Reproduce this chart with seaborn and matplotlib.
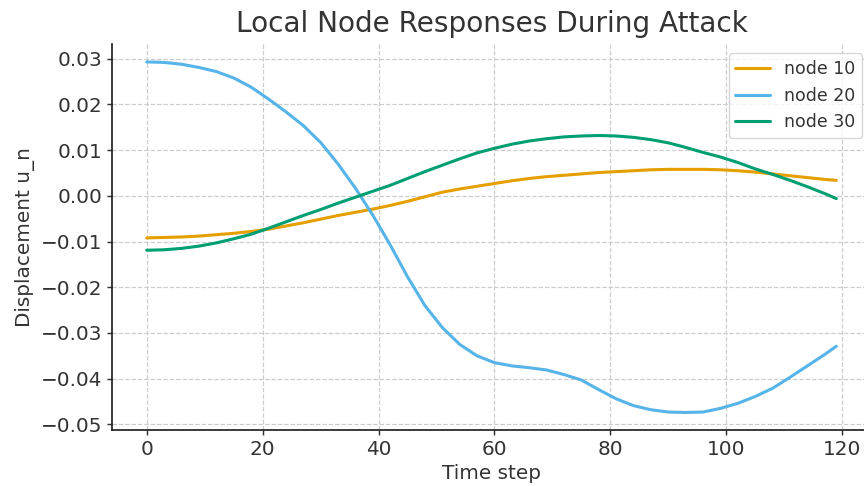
import numpy as np
import pandas as pd
import matplotlib
matplotlib.use("Agg")
import matplotlib.pyplot as plt
import seaborn as sns

# values, every 3 time steps (+ last step 119)
time_steps = [0, 3, 6, 9, 12, 15, 18, 21, 24, 27, 30, 33, 36, 39, 42, 45,
              48, 51, 54, 57, 60, 63, 66, 69, 72, 75, 78, 81, 84, 87, 90,
              93, 96, 99, 102, 105, 108, 111, 114, 117, 119]
node_10 = [-0.0092, -0.0091, -0.0090, -0.0088, -0.0085, -0.0082, -0.0078,
           -0.0073, -0.0066, -0.0059, -0.0051, -0.0043, -0.0036, -0.0029,
           -0.0021, -0.0012, -0.0002, 0.0008, 0.0015, 0.0021, 0.0027,
           0.0033, 0.0038, 0.0042, 0.0045, 0.0048, 0.0051, 0.0053, 0.0055,
           0.0057, 0.0058, 0.0058, 0.0058, 0.0057, 0.0055, 0.0052, 0.0048,
           0.0044, 0.0040, 0.0036, 0.0034]
node_20 = [0.0293, 0.0292, 0.0288, 0.0281, 0.0272, 0.0258, 0.0238, 0.0212,
           0.0184, 0.0154, 0.0117, 0.0070, 0.0017, -0.0042, -0.0107,
           -0.0177, -0.0240, -0.0288, -0.0325, -0.0350, -0.0365, -0.0372,
           -0.0376, -0.0381, -0.0391, -0.0403, -0.0424, -0.0444, -0.0459,
           -0.0468, -0.0473, -0.0474, -0.0473, -0.0465, -0.0454, -0.0439,
           -0.0421, -0.0397, -0.0372, -0.0347, -0.0329]
node_30 = [-0.0119, -0.0118, -0.0115, -0.0110, -0.0103, -0.0094, -0.0084,
           -0.0071, -0.0057, -0.0043, -0.0030, -0.0016, -0.0003, 0.0010,
           0.0023, 0.0038, 0.0053, 0.0067, 0.0081, 0.0094, 0.0104, 0.0113,
           0.0120, 0.0125, 0.0129, 0.0131, 0.0132, 0.0131, 0.0128, 0.0123,
           0.0116, 0.0106, 0.0095, 0.0085, 0.0073, 0.0059, 0.0047, 0.0034,
           0.0020, 0.0005, -0.0006]
series_names = ["node 10", "node 20", "node 30"]
colors = ["#E69F00", "#56B4E9", "#009E73"]

frames = []
for name, vals in zip(series_names, [node_10, node_20, node_30]):
    frames.append(pd.DataFrame({"t": time_steps, "u": vals, "node": name}))
df = pd.concat(frames, ignore_index=True)

sns.set_style("ticks")
plt.rcParams["font.family"] = ["DejaVu Sans"]
plt.rcParams["text.color"] = "#333333"
plt.rcParams["axes.labelcolor"] = "#333333"
plt.rcParams["xtick.color"] = "#333333"
plt.rcParams["ytick.color"] = "#333333"

fig = plt.figure(figsize=(9, 5.0625), dpi=96)
ax = fig.add_axes([0.1299, 0.1152, 0.878, 0.7934])

sns.lineplot(data=df, x="t", y="u", hue="node", palette=colors,
             linewidth=2.3, ax=ax)

ax.grid(True, linestyle="--", color="#cccccc", linewidth=0.9)
ax.set_axisbelow(True)
sns.despine(ax=ax)
for s in ["left", "bottom"]:
    ax.spines[s].set_color("#222222")
    ax.spines[s].set_linewidth(1.3)

ax.set_title("Local Node Responses During Attack", fontsize=21, pad=9)
ax.set_xlabel("Time step", fontsize=15)
ax.set_ylabel("Displacement u_n", fontsize=15)
ax.tick_params(labelsize=15, length=4, width=1.1)
ax.set_xticks([0, 20, 40, 60, 80, 100, 120])

ax.legend(loc="upper right", fontsize=13, frameon=True, title=None)

fig.savefig("out.png", dpi=96)
